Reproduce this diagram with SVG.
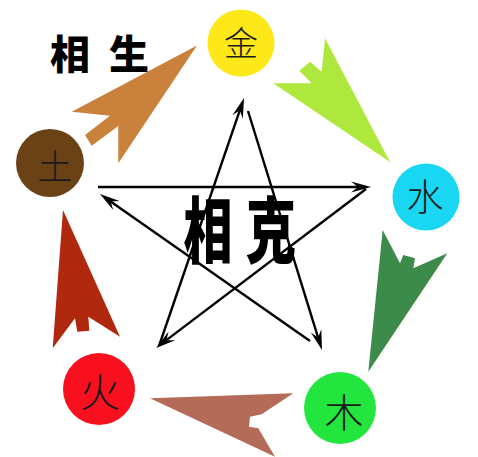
<svg xmlns="http://www.w3.org/2000/svg" width="478" height="457" viewBox="0 0 478 457">
<style>
.el{font-family:"Noto Sans CJK SC","Noto Sans CJK JP",sans-serif;font-weight:300;fill:#1a1a1a;text-anchor:middle}
.title{font-family:"Noto Sans CJK SC","Noto Sans CJK JP",sans-serif;font-weight:900;fill:#000;text-anchor:middle}
.star{fill:none;stroke:#000;stroke-width:2.4;marker-end:url(#ah)}
</style>
<defs>
<marker id="ah" markerUnits="userSpaceOnUse" markerWidth="30" markerHeight="20" refX="20" refY="10" orient="auto" overflow="visible">
<path d="M26,10 L6,4.5 L13,10 L6,15.5 Z" fill="#000"/>
</marker>
</defs>
<rect width="478" height="457" fill="#fff"/>
<g id="connectors">
<g id="sheng">
<polygon fill="#C9813B" points="197,45.5 71.7,111.7 110,115.7 85,135 91.7,145.7 118.3,126 118.3,163.3"/>
<polygon fill="#AEE83C" points="390,162 325,38.3 321.7,71.7 310,61.7 299.3,70.7 311.7,83.3 273.3,83.3"/>
<polygon fill="#3D8B4A" points="368.3,371.7 382.7,230 400,263.3 403.3,255 415,258.3 413.3,268.3 447.3,253.3"/>
<polygon fill="#B46B58" points="150,398.3 293.3,393.3 261.7,414.3 250,416.7 249,426.7 258.3,428.3 275,456.7"/>
<polygon fill="#B0290E" points="63,210 52.7,348.3 75,318.3 77.3,331.7 89.3,330.7 88.3,316.7 120,336.7"/>
</g>
<g id="ke">
<path class="star" d="M98,187 L365,187"/>
<path class="star" d="M366,189 L160.8,344.4"/>
<path class="star" d="M159,346 L242.1,103.7"/>
<path class="star" d="M248,111 L320.2,344.3"/>
<path class="star" d="M310,341 L104.9,197.4"/>
</g>
</g>
<g id="node-jin"><circle cx="241" cy="43" r="33.5" fill="#FFE81A"/><text class="el" x="241" y="56" font-size="34">金</text></g>
<g id="node-shui"><circle cx="426" cy="197" r="33.5" fill="#19D6F2"/><text class="el" x="425" y="211" font-size="37">水</text></g>
<g id="node-mu"><circle cx="340" cy="408" r="36" fill="#22E63E"/><text class="el" x="344" y="427" font-size="39">木</text></g>
<g id="node-huo"><circle cx="99" cy="389" r="36" fill="#F8101E"/><text class="el" x="100" y="407" font-size="40">火</text></g>
<g id="node-tu"><circle cx="50" cy="163" r="34" fill="#6B4216"/><text class="el" x="55" y="180" font-size="35">土</text></g>
<g id="label-sheng">
<text class="title" x="70" y="69" font-size="40">相</text>
<text class="title" x="129" y="69" font-size="40">生</text>
</g>
<g id="label-ke">
<text class="title" font-size="72" transform="translate(208,257) scale(0.68,1)">相</text>
<text class="title" font-size="72" transform="translate(271,257) scale(0.7,1)">克</text>
</g>
</svg>
